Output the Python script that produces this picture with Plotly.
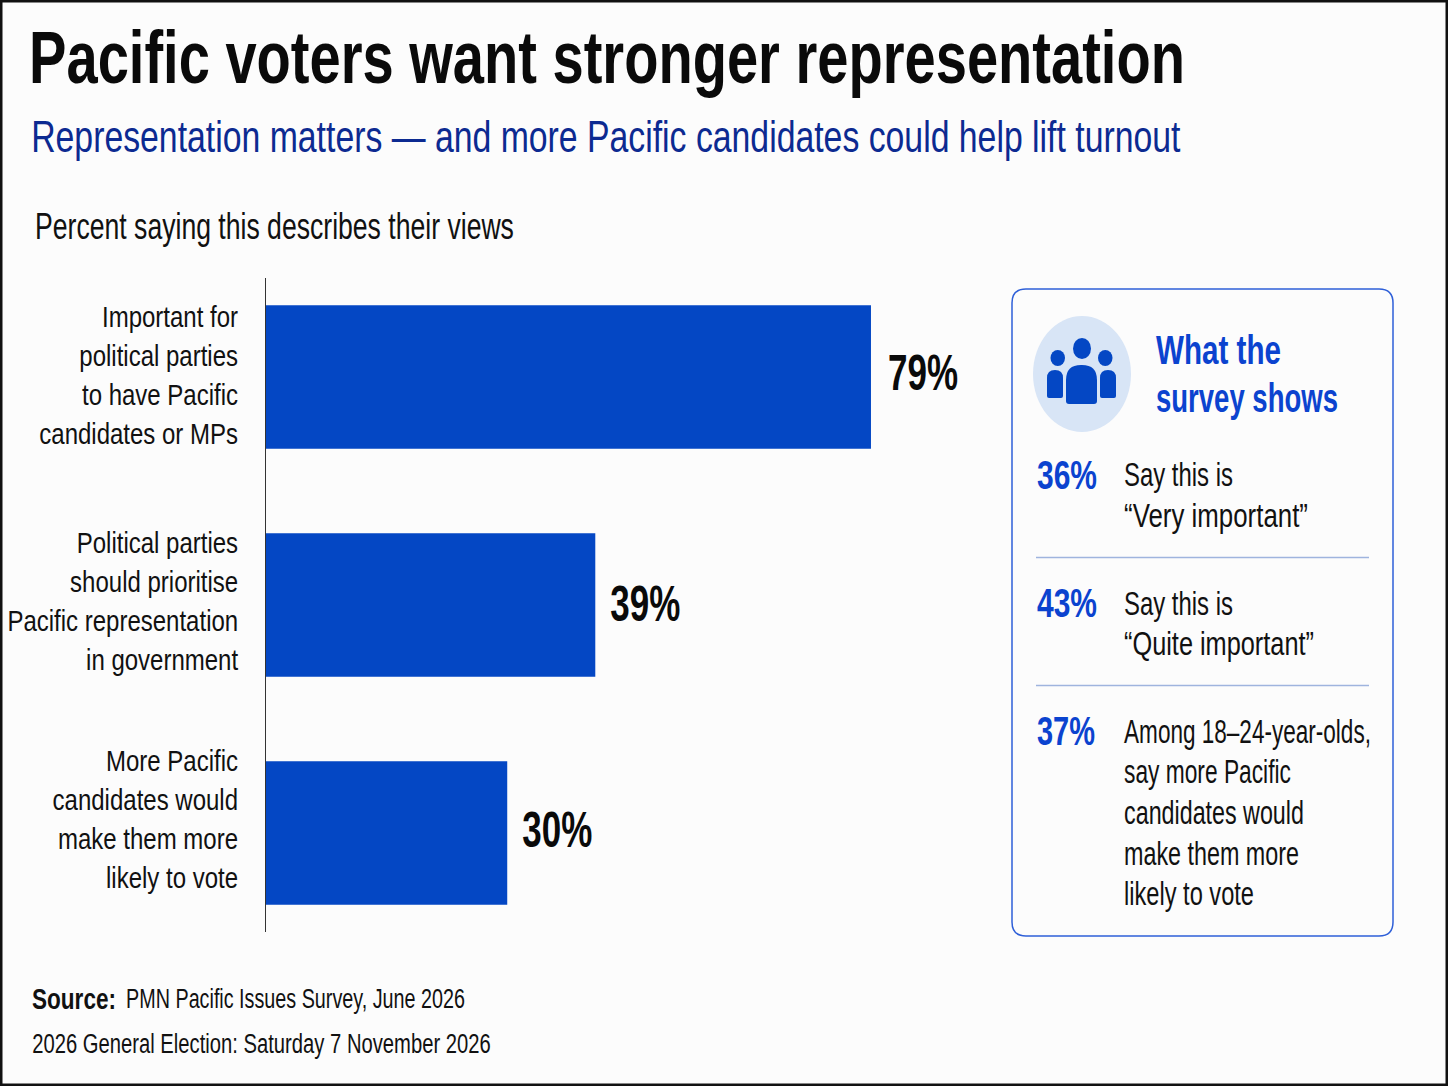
import json
import plotly.graph_objects as go

W, H = 1448, 1086
FONT = "Liberation Sans, sans-serif"

# bar lengths follow the drawn bars, which are not in strict proportion to the printed labels
categories = [
    "Important for<br>political parties<br>to have Pacific<br>candidates or MPs",
    "Political parties<br>should prioritise<br>Pacific representation<br>in government",
    "More Pacific<br>candidates would<br>make them more<br>likely to vote",
]
bar_lengths = [79, 43, 31.5]
bar_labels = ["79%", "39%", "30%"]

panel_stats = ["36%", "43%", "37%"]
panel_notes = [
    ["Say this is", "“Very important”"],
    ["Say this is", "“Quite important”"],
    ["Among 18–24-year-olds,", "say more Pacific", "candidates would", "make them more", "likely to vote"],
]

BLUE = "#0447c4"
TEXT_BLUE = "#0b43cf"

# the reference face is condensed and no narrow font is installed,
# so each annotation gets squeezed to its measured width after drawing
text_widths = []


def px(x):
    return x / W


def py(y):
    return 1 - y / H


def add_text(fig, x, y, text, size, width, color="#111111", bold=False):
    text_widths.append(width)
    fig.add_annotation(
        x=px(x), y=py(y), xref="paper", yref="paper",
        text=f"<b>{text}</b>" if bold else text,
        showarrow=False, xanchor="left", yanchor="middle",
        borderpad=0, borderwidth=0,
        font=dict(family=FONT, size=size, color=color),
    )


def rounded_path(x0, y0, x1, y1, r, r_bottom=None):
    rb = r if r_bottom is None else r_bottom
    p = lambda x, y: f"{px(x)},{py(y)}"
    return (
        f"M {p(x0 + r, y0)} L {p(x1 - r, y0)} Q {p(x1, y0)} {p(x1, y0 + r)} "
        f"L {p(x1, y1 - rb)} Q {p(x1, y1)} {p(x1 - rb, y1)} "
        f"L {p(x0 + rb, y1)} Q {p(x0, y1)} {p(x0, y1 - rb)} "
        f"L {p(x0, y0 + r)} Q {p(x0, y0)} {p(x0 + r, y0)} Z"
    )


def add_shape_px(fig, kind, x0, y0, x1, y1, **kw):
    fig.add_shape(type=kind, xref="paper", yref="paper",
                  x0=px(x0), x1=px(x1), y0=py(y0), y1=py(y1), **kw)


fig = go.Figure()

fig.add_trace(go.Bar(
    y=categories,
    x=bar_lengths,
    orientation="h",
    width=0.63,
    marker=dict(color=BLUE, line=dict(width=0)),
    text=[f"<b>{t}</b>" for t in bar_labels],
    textposition="outside",
    textfont=dict(family=FONT, size=50, color="#0a0a0a"),
    cliponaxis=False,
    hoverinfo="skip",
))

# outer frame
fig.add_shape(type="rect", xref="paper", yref="paper", x0=0, x1=1, y0=0, y1=1,
              line=dict(color="#111111", width=5), layer="below")

# side panel
fig.add_shape(type="path", xref="paper", yref="paper",
              path=rounded_path(1012, 289, 1393, 936, 14),
              line=dict(color="#2e5fd8", width=1.5), fillcolor="rgba(0,0,0,0)")
add_shape_px(fig, "line", 1036, 557.5, 1369, 557.5, line=dict(color="#9fb4de", width=1.5))
add_shape_px(fig, "line", 1036, 685.5, 1369, 685.5, line=dict(color="#9fb4de", width=1.5))

# people icon
add_shape_px(fig, "circle", 1033, 316, 1131, 432, fillcolor="#d8e5f6", line=dict(width=0))
icon = dict(fillcolor=BLUE, line=dict(width=0))
add_shape_px(fig, "circle", 1073, 338, 1091, 359, **icon)
add_shape_px(fig, "circle", 1050.5, 350, 1065, 366, **icon)
add_shape_px(fig, "circle", 1098, 350, 1112.5, 366, **icon)
fig.add_shape(type="path", xref="paper", yref="paper", path=rounded_path(1066, 365, 1097, 404, 15, 3), **icon)
fig.add_shape(type="path", xref="paper", yref="paper", path=rounded_path(1047, 370, 1063, 398, 8, 2), **icon)
fig.add_shape(type="path", xref="paper", yref="paper", path=rounded_path(1100, 370, 1116, 398, 8, 2), **icon)

# headings
add_text(fig, 28.5, 57, "Pacific voters want stronger representation", 75, 1156, "#0a0a0a", bold=True)
add_text(fig, 31, 137, "Representation matters — and more Pacific candidates could help lift turnout", 45, 1150, "#0c2a91")
add_text(fig, 35, 227, "Percent saying this describes their views", 36, 479)

# panel text
add_text(fig, 1156, 350, "What the", 41, 125, TEXT_BLUE, bold=True)
add_text(fig, 1156, 398, "survey shows", 41, 182, TEXT_BLUE, bold=True)

stat_rows = [475, 603, 731]
note_rows = [[475, 515], [603, 643], [731, 771, 812, 853, 893]]
stat_widths = [60, 60, 58]
note_widths = [[109, 184], [109, 190], [247, 167, 180, 175, 130]]
for stat, y, sw, notes, ys, nw in zip(panel_stats, stat_rows, stat_widths, panel_notes, note_rows, note_widths):
    add_text(fig, 1037, y, stat, 41, sw, TEXT_BLUE, bold=True)
    for note, ny, w in zip(notes, ys, nw):
        add_text(fig, 1124, ny, note, 33, w)

# footer
add_text(fig, 32, 998, "Source:", 30, 84, bold=True)
add_text(fig, 126, 998, "PMN Pacific Issues Survey, June 2026", 28, 339)
add_text(fig, 32, 1043, "2026 General Election: Saturday 7 November 2026", 28, 459)

fig.update_layout(
    width=W,
    height=H,
    margin=dict(l=0, r=0, t=0, b=0),
    paper_bgcolor="#fcfcfc",
    plot_bgcolor="rgba(0,0,0,0)",
    showlegend=False,
    xaxis=dict(
        domain=[266 / W, 960 / W],
        range=[0, 694 / 7.658],
        visible=False,
        automargin=False,
    ),
    yaxis=dict(
        domain=[1 - 932 / H, 1 - 278 / H],
        range=[2.434, -0.434],
        automargin=False,
        showgrid=False,
        zeroline=False,
        showline=True,
        linecolor="#333333",
        linewidth=1,
        ticks="",
        ticklabelstandoff=28,
        tickfont=dict(family=FONT, size=30, color="#111111"),
    ),
)

squeeze_js = """
document.body.style.margin = '0';
document.body.style.overflow = 'hidden';
var widths = %s;
function squeeze(el, factor, edge, dx, dy) {
    var box = el.getBBox();
    var ref = edge === 'right' ? box.x + box.width : box.x;
    var old = el.getAttribute('transform') || '';
    el.setAttribute('transform', 'translate(' + dx + ',' + dy + ') ' + old +
        ' translate(' + ref + ',0) scale(' + factor + ',1) translate(' + (-ref) + ',0)');
}
function run() {
    var notes = document.querySelectorAll('.annotation-text-g text');
    var ticks = document.querySelectorAll('.ytick text');
    var bars = document.querySelectorAll('.bartext');
    if (notes.length < widths.length || !ticks.length || !bars.length) { setTimeout(run, 20); return; }
    notes.forEach(function (el, i) { squeeze(el, widths[i] / el.getBBox().width, 'left', 0, 0); });
    // tick nodes come bottom label first
    var tickShift = [-14, -4, -2];
    ticks.forEach(function (el, i) { squeeze(el, 0.8, 'right', 7, tickShift[i]); });
    var barShiftX = [14, 12, 12];
    var barShiftY = [-4, -1, -3];
    bars.forEach(function (el, i) { squeeze(el, 0.7, 'left', barShiftX[i], barShiftY[i]); });
}
run();
""" % json.dumps(text_widths)

fig.write_html("out.html", config=dict(displayModeBar=False), post_script=squeeze_js)
